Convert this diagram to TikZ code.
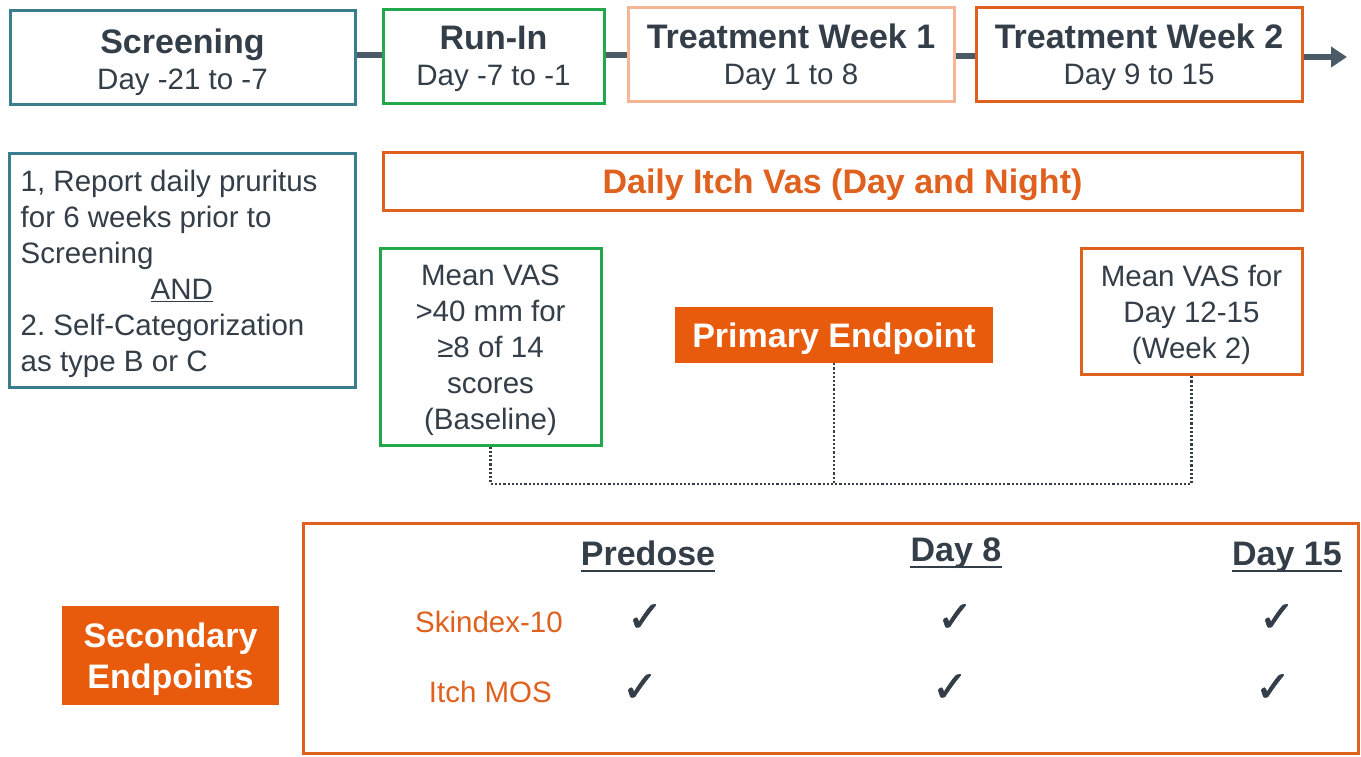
\documentclass[tikz,border=0pt]{standalone}
\usepackage{fontspec}
\setmainfont{Liberation Sans}
\newfontfamily\symfont[FakeBold=1.5]{DejaVu Sans}
\usetikzlibrary{arrows.meta,calc}
\definecolor{teal1}{RGB}{58,125,140}
\definecolor{green1}{RGB}{34,168,74}
\definecolor{peach}{RGB}{245,182,150}
\definecolor{orange1}{RGB}{224,96,30}
\definecolor{fillor}{RGB}{232,90,12}
\definecolor{dark}{RGB}{52,62,72}
\definecolor{conn}{RGB}{74,90,102}
\newcommand{\ttlfont}{\fontsize{34}{36}\selectfont\bfseries}
\tikzset{
  boxed/.style={draw=#1, line width=3pt, fill=white, inner sep=0pt},
  solid box/.style={fill=fillor, inner sep=0pt},
  txt/.style={inner sep=0pt, align=center, text=dark},
  wtxt/.style={inner sep=0pt, align=center, text=white, font=\fontsize{34}{41}\selectfont\bfseries},
  body/.style={font=\fontsize{29.5}{36}\selectfont\frenchspacing},
  link/.style={draw=conn, line width=6pt},
  dotlink/.style={draw=dark, line width=2.5pt, dash pattern=on 2.2pt off 2pt},
  hdr/.style={font=\ttlfont, text=dark, inner sep=0pt},
  rowlab/.style={font=\fontsize{29.5}{36}\selectfont, text=orange1, inner sep=0pt},
  chk/.style={font=\symfont\fontsize{43}{43}\selectfont, text=dark, inner sep=0pt},
}
\begin{document}
\begin{tikzpicture}[x=1pt,y=-1pt]
\useasboundingbox (0,0) rectangle (1361,756);
% top row
\node[boxed=teal1, minimum width=345, minimum height=94] (scr) at (182.5,57) {};
\node[txt, body] (scrT) at ($(scr.center)+(0,5)$) {{\ttlfont Screening}\\Day -21 to -7};
\node[boxed=green1, minimum width=221, minimum height=94] (run) at (493.5,56) {};
\node[txt, body] (runT) at ($(run.center)+(0,3)$) {{\ttlfont Run-In}\\Day -7 to -1};
\node[boxed=peach, minimum width=326, minimum height=94] (tw1) at (791,54) {};
\node[txt, body] (tw1T) at ($(tw1.center)+(0,3)$) {{\ttlfont Treatment Week 1}\\Day 1 to 8};
\node[boxed=orange1, minimum width=326, minimum height=94] (tw2) at (1139,54) {};
\node[txt, body] (tw2T) at ($(tw2.center)+(0,3)$) {{\ttlfont Treatment Week 2}\\Day 9 to 15};
\coordinate (arrowend) at (1347,57);
\draw[link] (scr.east |- 0,55) -- (run.west |- 0,55);
\draw[link] (run.east |- 0,55) -- (tw1.west |- 0,55);
\draw[link] (tw1.east |- 0,56) -- (tw2.west |- 0,56);
\draw[link, -{Triangle[length=16pt,width=20pt]}] (tw2.east |- 0,57) -- (arrowend);
% criteria box
\node[boxed=teal1, minimum width=346, minimum height=234] (crit) at (182,270) {};
\node[txt, body, align=left, anchor=west] (critT) at ($(crit.west)+(13,4)$)
  {1, Report daily pruritus\\for 6 weeks prior to\\Screening\\\hspace*{130pt}\underline{AND}\\2. Self-Categorization\\as type B or C};
% daily itch
\node[boxed=orange1, minimum width=919, minimum height=58] (itch) at (842.5,181) {};
\node[txt, text=orange1, font=\fontsize{34}{36}\selectfont\bfseries] (itchT) at ($(itch.center)+(0,4)$)
  {Daily Itch Vas (Day and Night)};
% VAS boxes
\node[boxed=green1, minimum width=221, minimum height=197] (vas) at (490.5,346.5) {};
\node[txt, body] (vasT) at ($(vas.center)+(0,4)$) {Mean VAS\\>40 mm for\\≥8 of 14\\scores\\(Baseline)};
\node[boxed=orange1, minimum width=221, minimum height=126] (wk2) at (1191.5,311) {};
\node[txt, body] (wk2T) at ($(wk2.center)+(0,4)$) {Mean VAS for\\Day 12-15\\(Week 2)};
\node[solid box, minimum width=318, minimum height=56] (prim) at (834,335) {};
\node[wtxt] (primT) at ($(prim.center)+(0,4)$) {Primary Endpoint};
\coordinate (jl) at (vas.south |- 0,484);
\coordinate (jr) at (wk2.south |- 0,484);
\coordinate (jm) at (prim.south |- 0,484);
\draw[dotlink] (vas.south) -- (jl) -- (jr) -- (wk2.south);
\draw[dotlink] (prim.south) -- (jm);
% secondary
\node[boxed=orange1, minimum width=1055, minimum height=230] (sec) at (830.5,638.5) {};
\node[solid box, minimum width=217, minimum height=99] (secl) at (170.5,655.5) {};
\node[wtxt] (seclT) at ($(secl.center)+(0,4)$) {Secondary\\Endpoints};
\node[hdr, anchor=base] (h1) at (648,565) {Predose};
\node[hdr, anchor=base] (h2) at (956,561) {Day 8};
\node[hdr, anchor=base] (h3) at (1287,565) {Day 15};
\foreach \h in {h1,h2,h3}{
  \draw[dark, line width=2.2pt] ([yshift=-6pt]\h.base west) -- ([yshift=-6pt]\h.base east);
}
\node[rowlab, anchor=base east] (r1) at (563,632) {Skindex-10};
\node[rowlab, anchor=base east] (r2) at (552,702) {Itch MOS};
\node[chk] (c11) at (645,618) {✓};
\node[chk] (c12) at (955,618) {✓};
\node[chk] (c13) at (1277,618) {✓};
\node[chk] (c21) at (640,688) {✓};
\node[chk] (c22) at (950,688) {✓};
\node[chk] (c23) at (1273,688) {✓};
\end{tikzpicture}
\end{document}
